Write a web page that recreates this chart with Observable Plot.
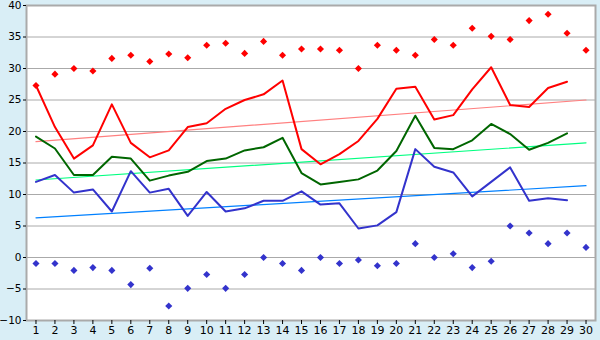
<!DOCTYPE html>
<html>
<head>
<meta charset="utf-8">
<script src="https://cdn.jsdelivr.net/npm/d3@7"></script>
<script src="https://cdn.jsdelivr.net/npm/@observablehq/plot@0.6"></script>
<style>
  html, body { margin: 0; padding: 0; background: #d9eef6; }
  #chart svg { display: block; }
</style>
</head>
<body>
<div id="chart"></div>
<script>
const days = d3.range(1, 31);
const redLine = [27.3, 20.7, 15.7, 17.8, 24.3, 18.2, 15.9, 17.0, 20.7, 21.3, 23.6, 25.0, 25.9, 28.1, 17.2, 14.8, 16.4, 18.5, 22.0, 26.8, 27.1, 21.9, 22.6, 26.7, 30.2, 24.2, 23.9, 26.9, 27.9];
const greenLine = [19.2, 17.3, 13.1, 13.1, 16.0, 15.7, 12.2, 13.0, 13.6, 15.3, 15.7, 17.0, 17.5, 19.0, 13.4, 11.6, 12.0, 12.4, 13.8, 16.9, 22.5, 17.4, 17.2, 18.6, 21.2, 19.6, 17.1, 18.2, 19.7];
const blueLine = [12.0, 13.1, 10.3, 10.8, 7.3, 13.7, 10.3, 10.9, 6.6, 10.4, 7.3, 7.8, 9.0, 9.0, 10.5, 8.4, 8.6, 4.6, 5.1, 7.2, 17.2, 14.4, 13.5, 9.7, 12.0, 14.3, 9.0, 9.4, 9.1];
const maxPoints = [27.3, 29.1, 30.0, 29.6, 31.6, 32.1, 31.1, 32.3, 31.7, 33.7, 34.0, 32.4, 34.3, 32.1, 33.1, 33.1, 32.9, 30.0, 33.7, 32.9, 32.1, 34.6, 33.7, 36.4, 35.1, 34.6, 37.6, 38.6, 35.6, 32.9];
const minPoints = [-0.95, -0.95, -2.05, -1.6, -2.05, -4.3, -1.7, -7.7, -4.9, -2.7, -4.9, -2.7, 0.0, -0.95, -2.05, 0.0, -0.95, -0.4, -1.3, -0.95, 2.2, 0.0, 0.6, -1.6, -0.6, 5.0, 3.9, 2.2, 3.9, 1.6];
const trendNames = ["red", "green", "blue"];
const trendStart = [18.4, 12.3, 6.3];
const trendEnd = [25.0, 18.2, 11.4];
const yTicks = [-10, -5, 0, 5, 10, 15, 20, 25, 30, 35, 40];

const colors = {
  red: "#ff0000", green: "#006600", blue: "#3333cc",
  redTrend: "#ff8080", greenTrend: "#00ff80", blueTrend: "#0080ff",
  grid: "#aaaaaa", bg: "#d9eef6"
};

const series = (vals) => vals.map((v, i) => ({x: days[i], y: v}));
const trendRows = trendNames.flatMap((n, i) => [
  {name: n, x: days[0], y: trendStart[i]},
  {name: n, x: days[days.length - 1], y: trendEnd[i]}
]);
const trendColor = {red: colors.redTrend, green: colors.greenTrend, blue: colors.blueTrend};

const chart = Plot.plot({
  width: 600,
  height: 340,
  marginLeft: 26,
  marginRight: 5,
  marginTop: 5,
  marginBottom: 20,
  style: {background: colors.bg, fontFamily: "DejaVu Sans, Verdana, sans-serif", fontSize: "11px", color: "#000"},
  x: {domain: [0.5, 30.5], ticks: days, tickFormat: d => String(d), label: null},
  y: {domain: [-10, 40], ticks: yTicks, tickFormat: d => String(d), label: null},
  marks: [
    Plot.frame({fill: "white", stroke: null}),
    Plot.gridY(yTicks, {stroke: colors.grid, strokeOpacity: 1}),
    ...trendNames.map(n => Plot.line(trendRows.filter(r => r.name === n), {x: "x", y: "y", stroke: trendColor[n], strokeWidth: 1.2})),
    Plot.line(series(redLine), {x: "x", y: "y", stroke: colors.red, strokeWidth: 2}),
    Plot.line(series(greenLine), {x: "x", y: "y", stroke: colors.green, strokeWidth: 2}),
    Plot.line(series(blueLine), {x: "x", y: "y", stroke: colors.blue, strokeWidth: 2}),
    Plot.dot(series(maxPoints), {x: "x", y: "y", symbol: "diamond2", r: 3.2, fill: colors.red, stroke: null}),
    Plot.dot(series(minPoints), {x: "x", y: "y", symbol: "diamond2", r: 3.2, fill: colors.blue, stroke: null}),
    Plot.frame({stroke: colors.grid, strokeWidth: 2}),
    Plot.axisX({ticks: days, tickSize: 4, tickPadding: 2, stroke: "#000"}),
    Plot.axisY({ticks: yTicks, tickSize: 3, tickPadding: 2, stroke: "#000", fontSize: "10.5px"})
  ]
});
document.getElementById("chart").appendChild(chart);
</script>
</body>
</html>
